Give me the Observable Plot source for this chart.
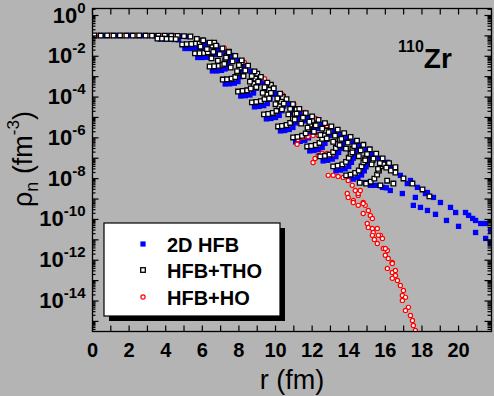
<!DOCTYPE html>
<html><head><meta charset="utf-8">
<script src="https://cdn.jsdelivr.net/npm/d3@7"></script>
<script src="https://cdn.jsdelivr.net/npm/@observablehq/plot@0.6"></script>
<style>
html,body{margin:0;padding:0;background:#b4b4b4;}
svg{display:block;}
</style></head><body>
<div id="chart"></div>
<script>
// ---- axis ticks / labels ----
const xTickLabels = [0,2,4,6,8,10,12,14,16,18,20];
const xMinorTicks = [0,1,2,3,4,5,6,7,8,9,10,11,12,13,14,15,16,17,18,19,20,21];
const yLabelExp = [0,-2,-4,-6,-8,-10,-12,-14];
const seriesNames = ["2D HFB", "HFB+THO", "HFB+HO"];

// ---- 2D HFB (blue filled squares) ----
const hfbR = [
 0.25,0.6,0.95,1.3,1.65,2.0,2.35,2.7,3.05,3.4,3.75,4.1,4.45,4.8,5.15,
 3.7,3.95,4.2,4.45,4.7,
 5.05,5.3,5.55,5.8,6.0,6.15,
 5.75,6.0,6.25,6.45,6.6,6.7,6.8,
 6.55,6.8,7.05,7.25,7.4,7.5,7.6,
 7.25,7.5,7.75,7.95,8.1,8.2,8.3,
 8.1,8.35,8.6,8.8,8.95,9.05,9.15,
 8.85,9.1,9.35,9.55,9.7,9.8,9.9,
 9.5,9.75,10.0,10.2,10.35,10.45,10.55,
 10.27,10.5,10.75,10.95,11.1,11.2,11.3,
 11.1,11.35,11.6,11.8,11.95,12.05,12.15,
 11.87,12.1,12.35,12.55,12.7,12.8,12.9,
 12.6,12.85,13.1,13.3,13.45,13.55,13.65,
 13.3,13.55,13.8,14.0,14.15,14.25,14.35,
 14.0,14.25,14.5,14.7,14.85,14.95,15.05,
 5.85,6.2,6.55,6.9,7.25,7.6,7.95,8.3,8.65,9.0,9.35,9.7,10.05,10.4,10.75,11.1,11.45,11.8,12.15,12.5,12.85,13.2,13.55,13.9,14.25,14.6,14.95,15.3,15.65,16.0,16.35,
 6.0,6.7,7.4,8.1,8.8,9.5,10.2,10.9,11.6,12.3,13.0,13.7,14.4,15.1,
 14.9,15.18,15.34,15.6,15.84,16.05,16.27,16.93,17.64,18.19,18.63,19.01,19.56,19.84,20.38,20.77,21.21,21.48,21.75,
 17.53,17.92,18.3,18.74,19.34,20.0,20.93,21.48,21.75,
 16.82,17.2,17.37,17.75,18.3,20.55,20.93,16.11
];
const hfbRho = [
 0.103,0.103,0.104,0.103,0.103,0.104,0.103,0.103,0.103,0.102,0.101,0.1,0.098,0.095,0.092,
 0.07,0.069,0.068,0.066,0.064,
 2.4e-2,2.4e-2,2.51e-2,2.69e-2,3.31e-2,4.47e-2,
 8.71e-3,8.71e-3,8.91e-3,1.0e-2,1.41e-2,2.09e-2,3.16e-2,
 1.91e-3,1.91e-3,2.04e-3,2.4e-3,3.98e-3,6.61e-3,1.1e-2,
 4.37e-4,4.47e-4,4.79e-4,5.75e-4,1.0e-3,1.78e-3,3.16e-3,
 1.12e-4,1.17e-4,1.26e-4,1.58e-4,2.69e-4,4.79e-4,8.51e-4,
 3.31e-5,3.47e-5,3.8e-5,4.79e-5,7.94e-5,1.35e-4,2.4e-4,
 8.51e-6,8.91e-6,1.0e-5,1.26e-5,2.14e-5,3.63e-5,6.31e-5,
 2.19e-6,2.29e-6,2.57e-6,3.24e-6,5.37e-6,9.12e-6,1.58e-5,
 6.31e-7,6.76e-7,7.59e-7,1.0e-6,1.62e-6,2.69e-6,4.47e-6,
 2.29e-7,2.4e-7,2.69e-7,3.39e-7,5.37e-7,8.51e-7,1.35e-6,
 7.41e-8,7.94e-8,9.12e-8,1.2e-7,1.91e-7,3.02e-7,4.79e-7,
 2.4e-8,2.63e-8,3.02e-8,3.98e-8,6.31e-8,1.0e-7,1.7e-7,
 8.71e-9,9.55e-9,1.15e-8,1.51e-8,2.4e-8,3.8e-8,6.03e-8,
 4.68e-2,3.72e-2,2.75e-2,2.09e-2,1.41e-2,9.33e-3,6.17e-3,3.47e-3,1.86e-3,1.0e-3,5.25e-4,2.75e-4,1.45e-4,8.13e-5,4.57e-5,2.69e-5,1.66e-5,1.02e-5,6.76e-6,4.57e-6,3.16e-6,2.14e-6,1.48e-6,1.0e-6,6.46e-7,4.17e-7,2.69e-7,1.62e-7,9.77e-8,5.89e-8,3.47e-8,
 2.14e-2,1.23e-2,6.03e-3,2.45e-3,7.08e-4,2.0e-4,5.75e-5,1.78e-5,6.76e-6,2.88e-6,1.35e-6,6.31e-7,2.63e-7,1.1e-7,
 6.46e-9,4.68e-9,4.68e-9,4.68e-9,3.72e-9,3.55e-9,2.63e-9,1.86e-9,1.2e-9,1.86e-9,1.2e-9,6.76e-10,3.89e-10,2.19e-10,2.19e-10,1.12e-10,6.31e-11,6.31e-11,2.88e-11,
 4.9e-10,3.89e-10,2.75e-10,1.78e-10,8.91e-11,4.57e-11,2.29e-11,1.17e-11,6.61e-12,
 1.45e-8,5.75e-9,8.13e-9,3.72e-9,2.09e-9,1.58e-10,8.91e-11,6.31e-8
];

// ---- HFB+THO (black open squares) ----
const thoR = [
 0.1,0.45,0.8,1.15,1.5,1.85,2.2,2.55,2.9,3.25,3.6,3.95,4.3,4.65,5.0,5.35,
 3.55,3.8,4.05,4.3,4.55,
 4.9,5.15,5.4,5.65,5.85,6.0,
 5.6,5.85,6.1,6.3,6.45,6.55,6.65,
 6.4,6.65,6.9,7.1,7.25,7.35,7.45,
 7.12,7.35,7.6,7.8,7.95,8.05,8.15,
 7.95,8.2,8.45,8.65,8.8,8.9,9.0,
 8.71,8.95,9.2,9.4,9.55,9.65,9.75,
 9.37,9.6,9.85,10.05,10.2,10.3,10.4,
 10.14,10.35,10.6,10.8,10.95,11.05,11.15,
 10.96,11.2,11.45,11.65,11.8,11.9,12.0,
 11.73,11.95,12.2,12.4,12.55,12.65,12.75,
 12.44,12.7,12.95,13.15,13.3,13.4,13.5,
 13.15,13.4,13.65,13.85,14.0,14.1,14.2,
 13.86,14.1,14.35,14.55,14.7,14.8,14.9,
 14.6,14.95,15.2,15.4,15.55,15.65,15.75,
 15.73,16.1,16.44,16.55,16.99,17.48,18.03,18.41,
 15.3,15.9,16.3,
 5.7,6.05,6.4,6.75,7.1,7.45,7.8,8.15,8.5,8.85,9.2,9.55,9.9,10.25,10.6,10.95,11.3,11.65,12.0,12.35,12.7,13.05,13.4,13.75,14.1,14.45,14.8,15.15,15.5,15.85,16.2,16.55,
 5.9,6.25,6.6,6.95,7.3,7.65,8.0,8.35,8.7,9.05,9.4,9.75,10.1,10.45,10.8,11.15,11.5,11.85,12.2,12.55,12.9,13.25,13.6,13.95,14.3,14.65,15.0,15.35,15.7,16.05,
 6.5,6.85,7.2,7.55,7.9,8.25,8.6,8.95,9.3,9.65,10.0,10.35,10.7,11.05,11.4,11.75,12.1,12.45,12.8,13.15,13.5,13.85,14.2,14.55,14.9,15.25,15.6
];
const thoRho = [
 0.105,0.104,0.105,0.104,0.105,0.104,0.104,0.105,0.104,0.103,0.103,0.102,0.101,0.099,0.097,0.093,
 0.074,0.073,0.072,0.071,0.069,
 3.8e-2,3.9e-2,4.0e-2,4.2e-2,4.8e-2,6.0e-2,
 1.38e-2,1.41e-2,1.45e-2,1.58e-2,2.24e-2,3.31e-2,4.68e-2,
 3.16e-3,3.24e-3,3.39e-3,3.8e-3,6.3e-3,1.05e-2,1.66e-2,
 7.24e-4,7.41e-4,7.94e-4,9.55e-4,1.58e-3,2.82e-3,5.01e-3,
 1.86e-4,2.0e-4,2.14e-4,2.63e-4,4.47e-4,7.94e-4,1.41e-3,
 5.5e-5,5.75e-5,6.31e-5,7.94e-5,1.32e-4,2.24e-4,3.98e-4,
 1.41e-5,1.48e-5,1.66e-5,2.09e-5,3.55e-5,6.03e-5,1.0e-4,
 3.63e-6,3.8e-6,4.27e-6,5.37e-6,8.91e-6,1.51e-5,2.51e-5,
 1.05e-6,1.12e-6,1.26e-6,1.66e-6,2.69e-6,4.47e-6,7.08e-6,
 3.8e-7,3.98e-7,4.47e-7,5.62e-7,8.91e-7,1.41e-6,2.24e-6,
 1.23e-7,1.32e-7,1.51e-7,2.0e-7,3.16e-7,5.01e-7,7.94e-7,
 3.98e-8,4.37e-8,5.01e-8,6.61e-8,1.05e-7,1.66e-7,2.82e-7,
 1.45e-8,1.58e-8,1.91e-8,2.51e-8,3.98e-8,6.31e-8,1.0e-7,
 6.31e-9,5.75e-9,7.08e-9,1.0e-8,1.58e-8,2.51e-8,3.98e-8,
 4.68e-9,7.94e-9,5.75e-9,2.0e-8,1.02e-8,5.75e-9,2.95e-9,1.35e-9,
 7.94e-8,5.01e-8,2.51e-8,
 7.08e-2,6.03e-2,4.68e-2,3.31e-2,2.4e-2,1.58e-2,1.05e-2,6.31e-3,3.47e-3,1.82e-3,9.77e-4,5.13e-4,2.69e-4,1.45e-4,7.94e-5,4.47e-5,2.63e-5,1.62e-5,1.12e-5,7.59e-6,5.25e-6,3.63e-6,2.51e-6,1.7e-6,1.12e-6,7.24e-7,4.57e-7,2.75e-7,1.66e-7,9.77e-8,5.75e-8,3.63e-8,
 2.95e-2,2.24e-2,1.66e-2,1.26e-2,8.51e-3,5.62e-3,3.72e-3,2.0e-3,1.07e-3,5.75e-4,3.02e-4,1.58e-4,8.51e-5,4.79e-5,2.63e-5,1.55e-5,9.77e-6,6.17e-6,4.07e-6,2.82e-6,1.91e-6,1.29e-6,8.91e-7,5.89e-7,3.89e-7,2.45e-7,1.58e-7,9.55e-8,5.75e-8,3.47e-8,
 7.94e-3,6.03e-3,4.27e-3,2.82e-3,1.86e-3,1.07e-3,5.75e-4,3.09e-4,1.62e-4,8.51e-5,4.47e-5,2.51e-5,1.41e-5,7.94e-6,5.01e-6,3.16e-6,2.0e-6,1.38e-6,9.33e-7,6.46e-7,4.37e-7,2.95e-7,1.95e-7,1.26e-7,7.94e-8,5.01e-8,3.02e-8
];

// ---- HFB+HO (red open circles) ----
const hoR = [
 0.3,1.0,1.7,2.4,3.1,3.8,4.5,
 4.1,5.5,6.2,7.0,7.7,8.5,9.2,9.9,10.6,7.2,8.3,9.4,10.4,11.0,11.6,12.2,12.8,
 11.18,11.23,11.51,11.78,12.05,12.33,
 12.05,12.16,12.33,12.55,12.82,13.10,
 12.88,13.15,13.42,13.70,13.97,14.19,14.36,14.52,
 13.92,13.97,14.25,14.52,14.63,14.79,14.90,15.07,15.18,15.29,15.01,15.07,15.29,15.34,15.56,15.73,15.84,15.56,15.89,16.11,16.0,16.16,16.38,16.11,16.38,16.55,16.38,16.66,16.82,16.99,16.93,17.10,17.26,17.10,17.37,17.48,17.53,17.64,
 14.52,14.79,15.29,15.62,15.4,16.0,16.38,16.55,16.93,14.25,14.79
];
const hoRho = [
 0.104,0.104,0.104,0.104,0.103,0.101,0.098,
 0.074,3.98e-2,1.41e-2,3.39e-3,8.32e-4,2.19e-4,6.31e-5,1.7e-5,4.37e-6,2.51e-2,5.01e-3,7.94e-4,1.26e-4,4.47e-5,1.78e-5,8.91e-6,3.98e-6,
 4.79e-7,8.32e-7,1.05e-6,1.17e-6,1.32e-6,1.32e-6,
 6.17e-8,9.77e-8,1.38e-7,1.74e-7,1.74e-7,1.55e-7,
 1.45e-8,1.45e-8,1.29e-8,1.15e-8,8.13e-9,4.68e-9,2.63e-9,1.51e-9,
 1.86e-9,1.2e-9,8.51e-10,1.86e-9,2.63e-9,6.76e-10,4.9e-10,2.75e-10,1.58e-10,1.12e-10,6.31e-11,4.07e-11,3.63e-11,2.29e-11,3.63e-11,1.66e-11,1.17e-11,6.61e-12,3.8e-12,3.02e-12,1.74e-12,1.23e-12,7.76e-13,3.98e-13,2.51e-13,1.78e-13,1.29e-13,1.02e-13,5.75e-14,3.31e-14,1.86e-14,1.51e-14,4.9e-15,3.47e-15,1.95e-15,1.12e-15,6.31e-16,3.63e-16,
 4.9e-10,1.95e-10,1.66e-11,1.66e-11,1.05e-11,3.8e-12,6.92e-13,3.16e-13,1.07e-14,6.76e-10,6.03e-10
];

const FONT = "'Liberation Sans', Arial, sans-serif";
const BG = "#b4b4b4";
const BLUE = "#0000ff", RED = "#ff0000";

const hfb = hfbR.map((r, i) => ({r, rho: hfbRho[i]}));
const tho = thoR.map((r, i) => ({r, rho: thoRho[i]}));
const ho = hoR.map((r, i) => ({r, rho: hoRho[i]}));

const xDomain = [0, 21.8];
const yDomain = [3.2e-16, 2.2];
const yMajor = d3.range(0, -16, -1).map(e => Math.pow(10, e));
const yMinor = [];
for (let e = 0; e >= -16; e--) for (let m = 2; m <= 9; m++) {
  const v = m * Math.pow(10, e);
  if (v > yDomain[0] && v < yDomain[1]) yMinor.push(v);
}

// inward tick marks drawn as custom dot symbols (fixed pixel length)
const tick = (dx, dy) => ({draw(c) { c.moveTo(0, 0); c.lineTo(dx, dy); }});
const tickOpts = {stroke: "black", strokeWidth: 1.2, fill: "none"};

const chart = Plot.plot({
  width: 494, height: 396,
  marginLeft: 92, marginRight: 3, marginTop: 8, marginBottom: 65,
  style: {background: BG, fontFamily: FONT, color: "black", overflow: "visible"},
  x: {domain: xDomain},
  y: {type: "log", domain: yDomain, axis: null},
  marks: [
    Plot.dot(hfb, {x: "r", y: "rho", symbol: "square", r: 3.0, fill: BLUE, stroke: "none", clip: true}),
    Plot.dot(ho, {x: "r", y: "rho", symbol: "circle", r: 2.1, fill: "white", stroke: RED, strokeWidth: 1.2, clip: true}),
    Plot.dot(tho, {x: "r", y: "rho", symbol: "square", r: 2.6, fill: "white", stroke: "black", strokeWidth: 1.3, clip: true}),
    // ticks
    Plot.dot(xMinorTicks, {x: d => d, y: () => yDomain[0], symbol: tick(0, -6), ...tickOpts}),
    Plot.dot(xMinorTicks, {x: d => d, y: () => yDomain[1], symbol: tick(0, 6), ...tickOpts}),
    Plot.dot(yMajor, {x: () => xDomain[0], y: d => d, symbol: tick(6, 0), ...tickOpts}),
    Plot.dot(yMinor, {x: () => xDomain[0], y: d => d, symbol: tick(3, 0), ...tickOpts}),
    Plot.dot(yMajor, {x: () => xDomain[1], y: d => d, symbol: tick(-7, 0), ...tickOpts}),
    Plot.dot(yMinor, {x: () => xDomain[1], y: d => d, symbol: tick(-4, 0), ...tickOpts}),
    Plot.axisX({anchor: "bottom", ticks: xTickLabels, tickSize: 0, tickPadding: 11, fontSize: 20, fontWeight: "bold", label: null}),
    Plot.text(yLabelExp, {x: () => 0, y: d => Math.pow(10, d), text: () => "10", textAnchor: "end", dx: -7, fontSize: 22, fontWeight: "bold"}),
    Plot.frame({stroke: "black", strokeWidth: 1.3})
  ]
});
document.getElementById("chart").appendChild(chart);

const svg = d3.select(chart);
// superscript exponents on y tick labels
svg.select('g[aria-label="text"]').selectAll("text").each(function(_, i) {
  d3.select(this).append("tspan").attr("dy", -10).attr("font-size", 15).text(String(yLabelExp[i]));
});

const g = svg.append("g").attr("font-family", FONT).attr("fill", "black").attr("text-anchor", "start");
// x title
g.append("text").attr("x", 292).attr("y", 389).attr("text-anchor", "middle").attr("font-size", 27).text("r (fm)");
// y title
const yt = g.append("text").attr("transform", "translate(32,159) rotate(-90)").attr("text-anchor", "middle").attr("font-size", 27);
yt.append("tspan").text("ρ");
yt.append("tspan").attr("font-size", 18).attr("dy", 6).text("n");
yt.append("tspan").attr("dy", -6).text(" (fm");
yt.append("tspan").attr("font-size", 17).attr("dy", -13).text("-3");
yt.append("tspan").attr("dy", 13).text(")");
// nucleus label
const nz = g.append("text").attr("x", 398).attr("y", 68).attr("font-weight", "bold").attr("text-anchor", "start");
nz.append("tspan").attr("font-size", 16).attr("dy", -16).text("110");
nz.append("tspan").attr("font-size", 28).attr("dy", 16).text("Zr");
// legend
const lg = g.append("g");
lg.append("rect").attr("x", 109).attr("y", 228).attr("width", 176).attr("height", 93).attr("fill", "black");
lg.append("rect").attr("x", 104).attr("y", 223).attr("width", 176).attr("height", 93).attr("fill", "white").attr("stroke", "black").attr("stroke-width", 1.2);
lg.append("rect").attr("x", 140.4).attr("y", 241.4).attr("width", 5.2).attr("height", 5.2).attr("fill", BLUE);
lg.append("rect").attr("x", 140.7).attr("y", 267.7).attr("width", 4.6).attr("height", 4.6).attr("fill", "white").attr("stroke", "black").attr("stroke-width", 1.3);
lg.append("circle").attr("cx", 143).attr("cy", 297).attr("r", 2.1).attr("fill", "white").attr("stroke", RED).attr("stroke-width", 1.2);
const ly = [252, 278, 305];
seriesNames.forEach((name, i) => {
  lg.append("text").attr("x", 167).attr("y", ly[i]).attr("text-anchor", "start").attr("font-size", 20).attr("font-weight", "bold").text(name);
});
</script>
</body></html>
